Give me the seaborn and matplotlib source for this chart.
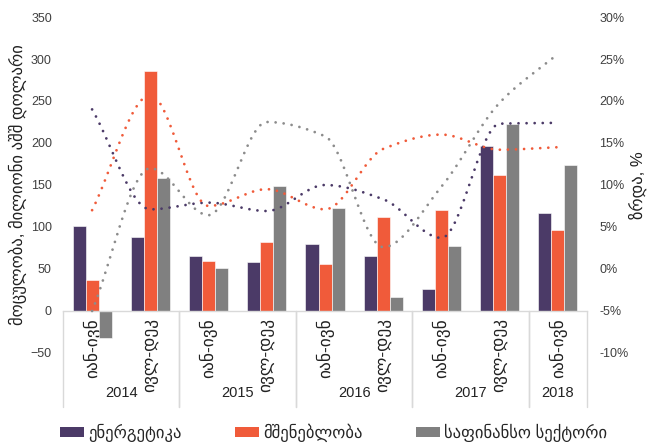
import numpy as np
import pandas as pd
import matplotlib
matplotlib.use("Agg")
import matplotlib.pyplot as plt
import matplotlib.transforms as mtransforms
from matplotlib.patches import Patch
from matplotlib.ticker import FuncFormatter, MultipleLocator
import seaborn as sns

# ---------------- data ----------------
periods = ["იან-ივნ", "ივლ-დეკ", "იან-ივნ", "ივლ-დეკ", "იან-ივნ",
           "ივლ-დეკ", "იან-ივნ", "ივლ-დეკ", "იან-ივნ"]
years = ["2014", "2014", "2015", "2015", "2016", "2016", "2017", "2017", "2018"]
series_names = ["ენერგეტიკა", "მშენებლობა", "საფინანსო სექტორი"]

energy = [101, 88, 65, 58, 80, 65, 26, 197, 117]
construction = [37, 286, 60, 82, 56, 112, 120, 162, 97]
finance = [-32, 158, 51, 149, 123, 17, 77, 223, 174]

energy_growth = [19.0, 7.1, 7.9, 6.9, 10.0, 8.3, 3.7, 17.3, 17.4]
construction_growth = [7.0, 20.7, 7.5, 9.5, 7.1, 14.3, 16.0, 14.2, 14.5]
finance_growth = [-5.0, 12.0, 6.4, 17.5, 15.8, 2.6, 9.8, 19.8, 25.6]

colors = ["#4B3A67", "#F05B3A", "#808080"]
line_colors = ["#4B3A67", "#F05B3A", "#8C8C8C"]

# ---------------- style ----------------
sns.set_theme(style="white")
plt.rcParams["font.family"] = ["Liberation Sans", "DejaVu Sans"]

idx = list(range(len(periods)))
df = pd.DataFrame({
    "pos": idx * 3,
    "value": energy + construction + finance,
    "series": [series_names[0]] * 9 + [series_names[1]] * 9 + [series_names[2]] * 9,
})

fig = plt.figure(figsize=(6.54, 4.44), dpi=100)
ax = fig.add_axes([0.0963, 0.205, 0.8013, 0.7567])

sns.barplot(data=df, x="pos", y="value", hue="series", palette=colors,
            saturation=1, width=0.67, ax=ax, legend=False, edgecolor="white",
            linewidth=0.4, order=idx, hue_order=series_names)

ax.set_xlim(-0.5, len(periods) - 0.5)
ax.set_ylim(-50, 350)
ax.yaxis.set_major_locator(MultipleLocator(50))
ax.tick_params(axis="y", labelsize=9, colors="#404040", length=0, pad=8)
ax.set_ylabel("მოცულობა, მილიონი აშშ დოლარი", fontsize=12, color="#222222")
ax.yaxis.set_label_coords(-0.069, 0.5)
ax.set_xlabel("")
for name, s in ax.spines.items():
    s.set_visible(name == "bottom")
ax.spines["bottom"].set_position(("data", 0))
ax.spines["bottom"].set_color("#D9D9D9")
ax.spines["bottom"].set_linewidth(1)

ax.set_xticks(idx)
ax.set_xticklabels(periods, rotation=90, fontsize=12.5, color="#222222")
ax.tick_params(axis="x", length=0, pad=5)

# year labels and separators (multi-level category axis)
blend = mtransforms.blended_transform_factory(ax.transData, ax.transAxes)
y0_axes = (0 - (-50)) / 400.0
groups = []
for i, y in enumerate(years):
    if not groups or groups[-1][0] != y:
        groups.append([y, i, i])
    else:
        groups[-1][2] = i
for y, a, b in groups:
    ax.text((a + b) / 2, -0.119, y, transform=blend, ha="center", va="center",
            fontsize=10.5, color="#222222", clip_on=False)
    for xs in (a - 0.5, b + 0.5):
        ax.plot([xs, xs], [y0_axes, -0.16], transform=blend, color="#D9D9D9",
                lw=1, clip_on=False)

# ---------------- growth lines (secondary axis) ----------------
ax2 = ax.twinx()
ax2.set_ylim(-10, 30)
ax2.yaxis.set_major_locator(MultipleLocator(5))
ax2.yaxis.set_major_formatter(FuncFormatter(lambda v, p: f"{v:.0f}%"))
ax2.tick_params(axis="y", labelsize=9, colors="#404040", length=0, pad=9)
ax2.set_ylabel("ზრდა, %", fontsize=12, color="#222222", rotation=90)
ax2.yaxis.set_label_coords(1.080, 0.5)
for s in ax2.spines.values():
    s.set_visible(False)
ax2.grid(False)


def smooth(xv, yv, n=30):
    """Monotone (Fritsch-Carlson) cubic rendering of the line through the points."""
    x = np.asarray(xv, float)
    y = np.asarray(yv, float)
    h = np.diff(x)
    d = np.diff(y) / h
    m = np.zeros_like(y)
    for k in range(1, len(y) - 1):
        if d[k - 1] * d[k] > 0:
            w1 = 2 * h[k] + h[k - 1]
            w2 = h[k] + 2 * h[k - 1]
            m[k] = (w1 + w2) / (w1 / d[k - 1] + w2 / d[k])
    m[0] = d[0]
    m[-1] = d[-1]
    xs, ys = [], []
    for k in range(len(y) - 1):
        t = np.linspace(0, 1, n)
        h00 = 2 * t**3 - 3 * t**2 + 1
        h10 = t**3 - 2 * t**2 + t
        h01 = -2 * t**3 + 3 * t**2
        h11 = t**3 - t**2
        seg_y = h00 * y[k] + h10 * h[k] * m[k] + h01 * y[k + 1] + h11 * h[k] * m[k + 1]
        seg_x = x[k] + t * h[k]
        if k > 0:
            seg_x, seg_y = seg_x[1:], seg_y[1:]
        xs.append(seg_x)
        ys.append(seg_y)
    return np.concatenate(xs), np.concatenate(ys)


for vals, c in zip([energy_growth, construction_growth, finance_growth], line_colors):
    sx, sy = smooth(idx, vals)
    ax2.plot(sx, sy, color=c, lw=2.0, linestyle=(0, (0.01, 2.9)),
             dash_capstyle="round", clip_on=False)

ax2.set_xlim(-0.5, len(periods) - 0.5)

handles = [Patch(facecolor=c, edgecolor="none") for c in colors]
fig.legend(handles, series_names, loc="center", bbox_to_anchor=(0.51, 0.025),
           ncol=3, frameon=False, fontsize=12, handlelength=1.45, handleheight=0.55,
           columnspacing=3.2, handletextpad=0.25)

fig.savefig("out.png", dpi=100)
